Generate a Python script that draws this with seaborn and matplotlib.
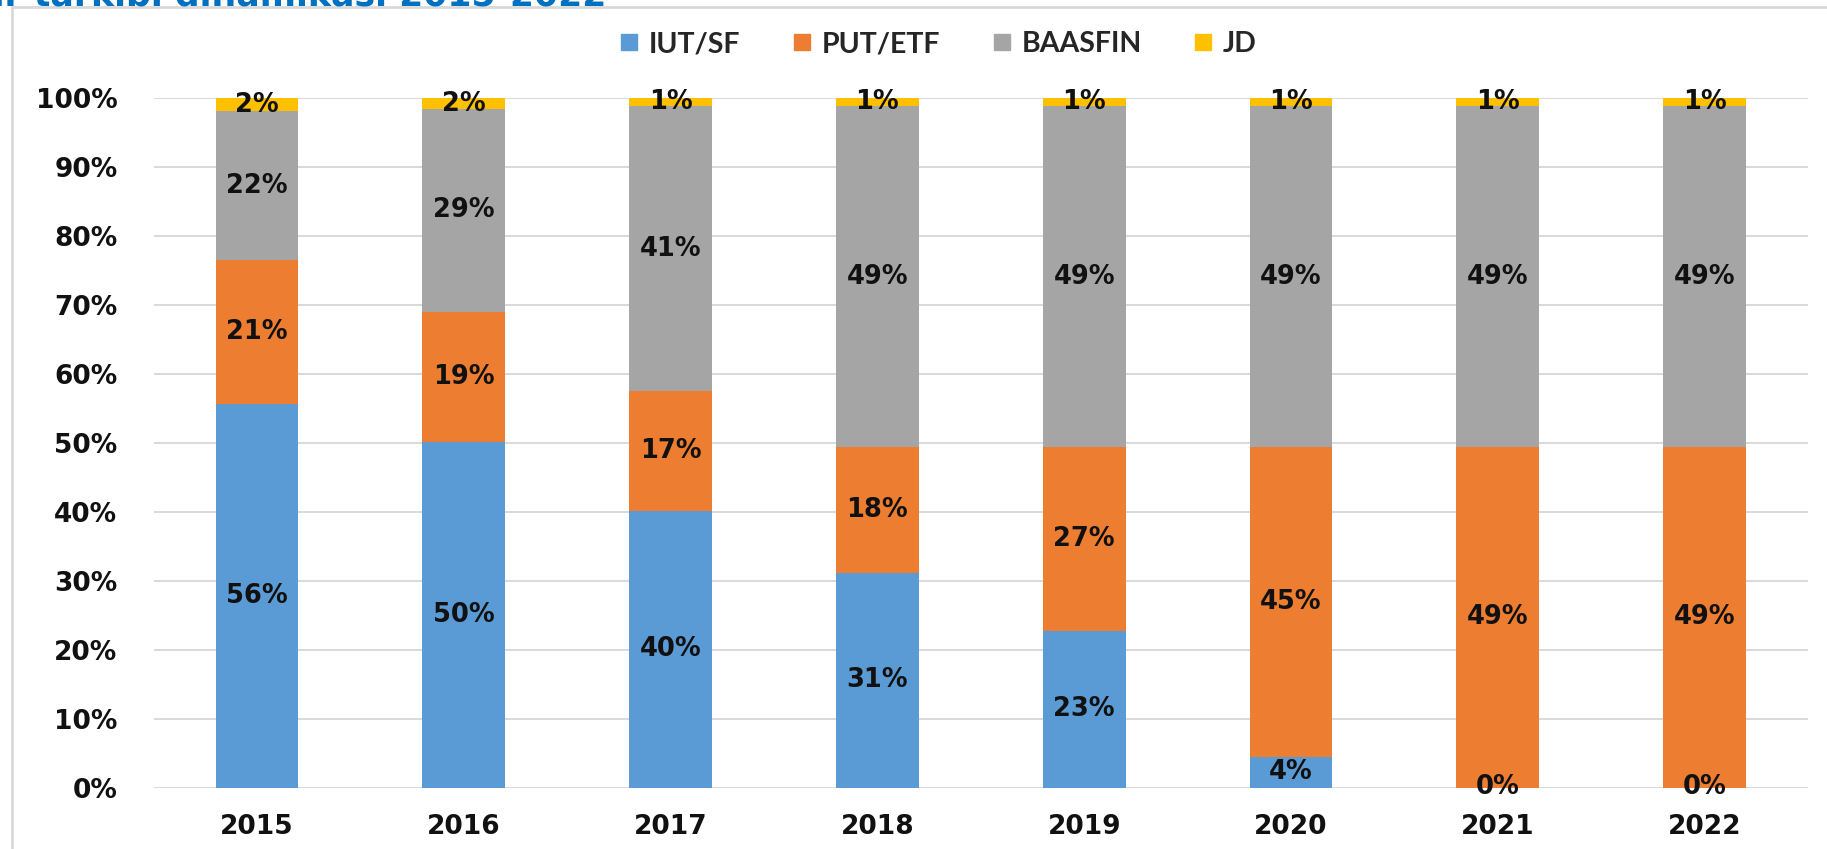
import matplotlib
matplotlib.use("Agg")
import matplotlib.pyplot as plt
import seaborn as sns
import numpy as np
import pandas as pd
from matplotlib.patches import Rectangle
from matplotlib.lines import Line2D

years = ["2015", "2016", "2017", "2018", "2019", "2020", "2021", "2022"]
series_names = ["IUT/SF", "PUT/ETF", "BAASFIN", "JD"]
iut_sf = [55.6, 50.1, 40.1, 31.1, 22.7, 4.4, 0.0, 0.0]
put_etf = [20.9, 18.9, 17.4, 18.3, 26.7, 45.0, 49.4, 49.4]
baasfin = [21.6, 29.4, 41.3, 49.4, 49.4, 49.4, 49.4, 49.4]
jd = [1.9, 1.6, 1.2, 1.2, 1.2, 1.2, 1.2, 1.2]
colors = ["#5B9BD5", "#ED7D31", "#A5A5A5", "#FFC000"]
yticks = [0, 10, 20, 30, 40, 50, 60, 70, 80, 90, 100]
title_text = "Aktivlar tarkibi dinamikasi 2015-2022"

sns.set_theme(style="white")
plt.rcParams['font.family'] = ['DejaVu Sans']

fig = plt.figure(figsize=(18.27, 8.49), dpi=100)
ax = fig.add_axes([153.6 / 1827, 61.5 / 849, (1808 - 153.6) / 1827, (787.5 - 98) / 849])

values = [iut_sf, put_etf, baasfin, jd]
df = pd.DataFrame({"year": years})
cum = np.zeros(len(years))
bottoms = []
for name, v in zip(series_names, values):
    bottoms.append(cum.copy())
    cum = cum + np.array(v)
    df[name] = cum.copy()

# draw cumulative bars from the top down so each layer shows its segment
for name, col in reversed(list(zip(series_names, colors))):
    sns.barplot(data=df, x="year", y=name, color=col, width=0.40,
                saturation=1, linewidth=0, ax=ax, zorder=3)

# data labels
for i in range(len(years)):
    for k, v in enumerate(values):
        mid = bottoms[k][i] + v[i] / 2
        ax.text(i, mid, f"{round(v[i]):d}%", ha="center", va="center",
                fontsize=18.5, fontweight="bold", color="#111111", zorder=5)

ax.set_ylim(0, 100)
ax.set_xlim(-0.5, len(years) - 0.5)
ax.set_yticks(yticks)
ax.set_yticklabels([f"{t}%" for t in yticks], fontsize=19, fontweight="bold", color="#111111")
ax.set_xticks(range(len(years)))
ax.set_xticklabels(years, fontsize=19, fontweight="bold", color="#111111")
ax.tick_params(axis="y", length=0, pad=26)
ax.tick_params(axis="x", length=0, pad=19)
ax.set_xlabel("")
ax.set_ylabel("")
ax.grid(axis="y", color="#D9D9D9", linewidth=1.4, zorder=0)
ax.set_axisbelow(True)
for s in ax.spines.values():
    s.set_visible(False)

# legend
handles = [Line2D([0], [0], marker="s", linestyle="none", markersize=11,
                  markerfacecolor=c, markeredgecolor=c) for c in colors]
fig.legend(handles, series_names, loc="center", bbox_to_anchor=(938 / 1827, 1 - 44 / 849),
           ncol=4, frameon=False, handlelength=0.7, handletextpad=0.35, columnspacing=1.8,
           prop={"family": "Lato", "size": 20.5, "weight": "bold"})

# chart border
fig.patches.append(Rectangle((12 / 1827, -0.05), 1.2, 1 - 7 / 849 + 0.05,
                             transform=fig.transFigure, fill=False,
                             edgecolor="#D9D9D9", linewidth=2, zorder=0))

# title (cut off at the top edge, as in the reference)
fig.text(606 / 1827, 1 - 5 / 849, title_text, ha="right", va="baseline",
         fontsize=25, fontweight="bold", color="#0070C0")

fig.savefig("out.png", dpi=100)
